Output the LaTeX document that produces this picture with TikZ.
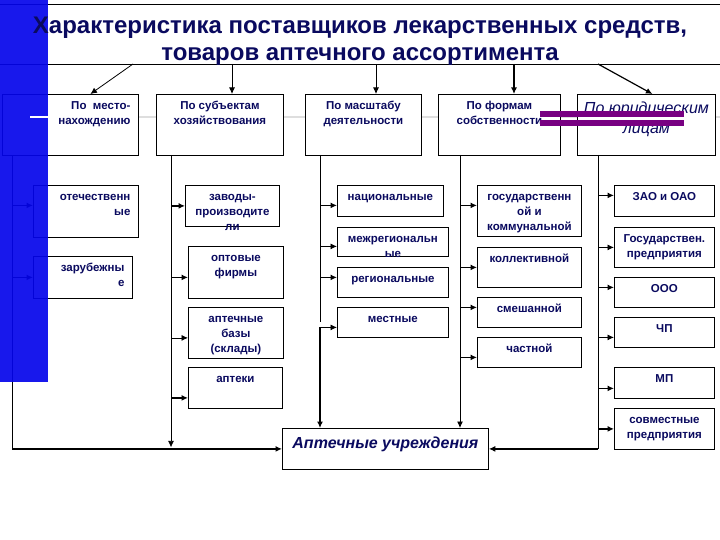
\documentclass[tikz,border=0pt]{standalone}
\usepackage{fontspec}
\setmainfont{Liberation Sans}
\usetikzlibrary{arrows.meta,calc}
\definecolor{navy}{RGB}{10,10,95}
\definecolor{slideblue}{RGB}{5,5,235}
\definecolor{plum}{RGB}{120,0,130}
\definecolor{rulegray}{RGB}{222,222,222}
\newcommand{\celltop}{15.5pt}
\newcommand{\cellbox}[4][\centering]{\parbox[c][#3pt][t]{#2pt}{#1\rule{0pt}{\celltop}#4}}
\newcommand{\rightcell}{\raggedleft\rightskip=8pt\relax}
\newcommand{\italcell}{\centering\mdseries\itshape\fontsize{16}{20}\selectfont\renewcommand{\celltop}{19pt}}
\tikzset{
  >={Latex[length=6.5pt,width=6pt]},
  box/.style={draw,line width=0.8pt,fill=white,inner sep=0pt,anchor=north west,
    text=navy,font=\fontsize{11.5}{15}\selectfont\bfseries},
  arr/.style={->,line width=#1},
  arr/.default=0.8pt,
  trunk/.style={line width=0.8pt},
  headline/.style={text=navy,font=\fontsize{24}{27}\selectfont\bfseries,align=center},
}
\begin{document}
\begin{tikzpicture}[x=1pt,y=-1pt]
  \useasboundingbox[fill=white] (0,0) rectangle (720,540);
  % slide template
  \draw[rulegray,line width=1.5pt] (48,117) -- (720,117);
  \draw[line width=0.8pt] (0,4) -- (720,4) (0,64) -- (720,64);

  % categories
  \node[box] (cat1) at (2,94) {\cellbox[\rightcell]{136}{61}{По\ \ место-\\нахождению}};
  \node[box] (cat2) at (156,94) {\cellbox{127}{61}{По субъектам\\хозяйствования}};
  \node[box] (cat3) at (305,94) {\cellbox{116}{61}{По масштабу\\деятельности}};
  \node[box] (cat4) at (438,94) {\cellbox{122}{61}{По формам\\собственности}};
  \node[box] (cat5) at (577,94) {\cellbox[\italcell]{138}{61}{По юридическим\\лицам}};

  % by location
  \node[box] (otech) at (33,185) {\cellbox[\rightcell]{105}{52}{отечественн\\ые}};
  \node[box] (zarub) at (33,256) {\cellbox[\rightcell]{99}{42}{зарубежны\\е}};
  % by subjects
  \node[box] (zavod) at (185,185) {\cellbox{94}{41}{заводы-\\производите\\ли}};
  \node[box] (opt) at (188,246) {\cellbox{95}{52}{оптовые\\фирмы}};
  \node[box] (baz) at (188,307) {\cellbox{95}{51}{аптечные\\базы\\(склады)}};
  \node[box] (apt) at (188,367) {\cellbox{94}{41}{аптеки}};
  % by scale
  \node[box] (nac) at (337,185) {\cellbox{106}{31}{национальные}};
  \node[box] (mezh) at (337,227) {\cellbox{111}{29}{межрегиональн\\ые}};
  \node[box] (reg) at (337,267) {\cellbox{111}{30}{региональные}};
  \node[box] (mest) at (337,307) {\cellbox{111}{30}{местные}};
  % by ownership
  \node[box] (gos) at (477,185) {\cellbox{104}{51}{государственн\\ой и\\коммунальной}};
  \node[box] (koll) at (477,247) {\cellbox{104}{40}{коллективной}};
  \node[box] (smesh) at (477,297) {\cellbox{104}{30}{смешанной}};
  \node[box] (chast) at (477,337) {\cellbox{104}{30}{частной}};
  % legal entities
  \node[box] (zao) at (614,185) {\cellbox{100}{31}{ЗАО и ОАО}};
  \node[box] (gospr) at (614,227) {\cellbox{100}{40}{Государствен.\\предприятия}};
  \node[box] (ooo) at (614,277) {\cellbox{100}{30}{ООО}};
  \node[box] (chp) at (614,317) {\cellbox{100}{30}{ЧП}};
  \node[box] (mp) at (614,367) {\cellbox{100}{31}{МП}};
  \node[box] (sovm) at (614,408) {\cellbox{100}{41}{совместные\\предприятия}};

  \node[box] (ucher) at (282,428) {\cellbox[\italcell\bfseries\renewcommand{\celltop}{20pt}]{206}{41}{Аптечные учреждения}};

  % from the title
  \coordinate (h1) at (133,64);
  \coordinate (h2) at (232,64);
  \coordinate (h3) at (376,64);
  \coordinate (h4) at (514,64);
  \coordinate (h5) at (598,64);
  \draw[arr] (h1) -- ([xshift=20]cat1.north);
  \draw[arr] (h2) -- (h2 |- cat2.north);
  \draw[arr] (h3) -- (h3 |- cat3.north);
  \draw[arr=1.6pt] (h4) -- (h4 |- cat4.north);
  \draw[arr=1.2pt] (h5) -- ([xshift=6]cat5.north);

  % trunks
  \coordinate (t1) at (12,155);
  \coordinate (t2) at (171,155);
  \coordinate (t3) at (320,155);
  \coordinate (t4) at (460,155);
  \coordinate (t5) at (598,155);

  \draw[trunk] (t1) -- (t1 |- ucher.west);
  \draw[arr=2.4pt] (t1 |- ucher.west) -- (ucher.west);
  \foreach \n/\d/\w in {otech/6/1.6,zarub/0/1.6}
    \draw[arr=\w pt] ([yshift=\d]\n.west -| t1) -- ([yshift=\d]\n.west);

  \draw[arr] (t2) -- ([yshift=1.5]t2 |- ucher.west);
  \foreach \n/\d/\w in {zavod/0/1.6,opt/-5/1.6,baz/-5/0.8,apt/-10/1.6}
    \draw[arr=\w pt] ([yshift=\d]\n.west -| t2) -- ([yshift=\d]\n.west);

  \draw[trunk] (t3) -- (t3 |- mest.west);
  \draw[arr=1.6pt] ([yshift=-5]t3 |- mest.west) -- (t3 |- ucher.north);
  \foreach \n/\d/\w in {nac/-4.5/1.6,mezh/-4.5/0.8,reg/5/1.6,mest/-5/0.8}
    \draw[arr=\w pt] ([yshift=\d]\n.west -| t3) -- ([yshift=\d]\n.west);

  \draw[arr] (t4) -- (t4 |- ucher.north);
  \foreach \n/\d/\w in {gos/5.5/1.6,koll/0/1.6,smesh/5/1.6,chast/-5/1.6}
    \draw[arr=\w pt] ([yshift=\d]\n.west -| t4) -- ([yshift=\d]\n.west);

  \draw[trunk] (t5) -- (t5 |- ucher.east);
  \draw[arr=2.4pt] (t5 |- ucher.east) -- (ucher.east);
  \foreach \n/\d/\w in {zao/5.5/1.6,gospr/0/0.8,ooo/5/1.6,chp/-5/0.8,mp/-5.5/1.6,sovm/0/1.2}
    \draw[arr=\w pt] ([yshift=\d]\n.west -| t5) -- ([yshift=\d]\n.west);

  % slide decoration on top
  \fill[slideblue,opacity=0.92] (0,0) rectangle (48,382);
  \draw[white,line width=1.5pt] (30,117) -- (48,117);
  \fill[plum] (540,111) rectangle (684,117);
  \fill[plum] (540,120) rectangle (684,126);

  \node[headline] (title) at (360,41) {Характеристика поставщиков лекарственных средств,\\товаров аптечного ассортимента};
\end{tikzpicture}
\end{document}
